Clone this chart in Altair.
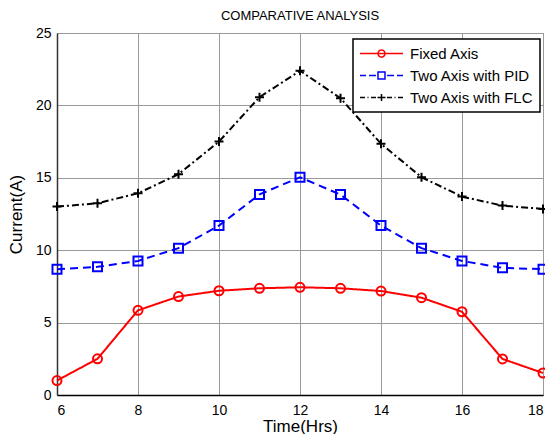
import altair as alt
import pandas as pd

hours = [6, 7, 8, 9, 10, 11, 12, 13, 14, 15, 16, 17, 18]
fixed_axis = [1.0, 2.5, 5.85, 6.8, 7.2, 7.37, 7.44, 7.37, 7.18, 6.72, 5.75, 2.49, 1.52]
two_axis_pid = [8.69, 8.85, 9.26, 10.14, 11.7, 13.85, 15.04, 13.84, 11.7, 10.14, 9.26, 8.78, 8.69]
two_axis_flc = [13.01, 13.24, 13.93, 15.25, 17.5, 20.57, 22.39, 20.5, 17.35, 15.04, 13.7, 13.08, 12.85]

series_names = ["Fixed Axis", "Two Axis with PID", "Two Axis with FLC"]
series_colors = ["#ff0000", "#0000ff", "#000000"]
series_dash = [[1, 0], [8, 5], [7, 3, 2, 3]]
plus_path = "M-1,0H1M0,-1V1"
series_shapes = ["circle", "square", plus_path]

# --- legend glyphs (line sample + marker), built as custom symbol paths ---
SYM_R = 7.5          # half of sqrt(symbolSize)
SYM_C = 8.5          # symbol centre inside legend entry (px)


def u(px):
    return round((px - SYM_C) / SYM_R, 4)


def segs(pairs):
    return "".join(f"M{u(a)},0H{u(b)}" for a, b in pairs)


mk = 22.5   # marker centre (px)
mr = 3.5    # marker half size (px)
k = round(mr / SYM_R, 4)
fixed_glyph = segs([(1, 44)]) + (
    f"M{u(mk + mr)},0A{k},{k},0,1,1,{u(mk - mr)},0A{k},{k},0,1,1,{u(mk + mr)},0Z"
)
pid_glyph = segs([(1, 7), (10, 17), (28, 35), (38, 44)]) + (
    f"M{u(mk - mr)},{-k}H{u(mk + mr)}V{k}H{u(mk - mr)}Z"
)
flc_glyph = segs([(1, 6), (8.5, 9.5), (12, 17), (18.5, 26.5), (28, 33), (35.5, 36.5), (39, 44)]) + (
    f"M{u(mk)},{-k}V{k}"
)
legend_paths = [fixed_glyph, pid_glyph, flc_glyph]

rows = []
for name, vals in zip(series_names, [fixed_axis, two_axis_pid, two_axis_flc]):
    for h, v in zip(hours, vals):
        rows.append({"hour": h, "current": v, "series": name})
df = pd.DataFrame(rows)

font = "Liberation Sans"

x_enc = alt.X(
    "hour:Q",
    scale=alt.Scale(domain=[6, 18], nice=False),
    axis=alt.Axis(
        values=[6, 8, 10, 12, 14, 16, 18], title="Time(Hrs)", ticks=False,
        labelPadding=8, titlePadding=1, titleFontSize=17, labelFontSize=14,
        grid=True, domainColor="#000000", domainWidth=1.5,
    ),
)
y_enc = alt.Y(
    "current:Q",
    scale=alt.Scale(domain=[0, 25], nice=False),
    axis=alt.Axis(
        values=[0, 5, 10, 15, 20, 25], title="Current(A)", ticks=False,
        labelPadding=6, titlePadding=10, titleFontSize=17, labelFontSize=14,
        grid=True, domainColor="#333333", domainWidth=1.5,
    ),
)

lines = alt.Chart(df).mark_line(strokeWidth=2).encode(
    x=x_enc,
    y=y_enc,
    color=alt.Color("series:N", scale=alt.Scale(domain=series_names, range=series_colors), legend=None),
    strokeDash=alt.StrokeDash("series:N", scale=alt.Scale(domain=series_names, range=series_dash), legend=None),
)

points = alt.Chart(df).mark_point(filled=False, strokeWidth=2, size=81, opacity=1).encode(
    x=alt.X("hour:Q"),
    y=alt.Y("current:Q"),
    color=alt.Color("series:N", scale=alt.Scale(domain=series_names, range=series_colors), legend=None),
    shape=alt.Shape("series:N", scale=alt.Scale(domain=series_names, range=series_shapes), legend=None),
)

legend_layer = alt.Chart(df).transform_filter("false").mark_point(
    filled=False, strokeWidth=1.5, opacity=1
).encode(
    x=alt.X("hour:Q"),
    y=alt.Y("current:Q"),
    color=alt.Color(
        "series:N",
        scale=alt.Scale(domain=series_names, range=series_colors),
        legend=alt.Legend(title=None),
    ),
    shape=alt.Shape(
        "series:N",
        scale=alt.Scale(domain=series_names, range=legend_paths),
        legend=alt.Legend(title=None),
    ),
)

chart = alt.layer(lines, points, legend_layer).resolve_scale(
    color="independent", shape="independent", strokeDash="independent"
).properties(
    width=486,
    height=362,
    padding={"left": 49, "top": 25, "right": 2, "bottom": 39},
    autosize=alt.AutoSizeParams(type="none"),
    title=alt.TitleParams(
        "COMPARATIVE ANALYSIS", fontSize=13, fontWeight="normal", font=font,
        anchor="middle", offset=3, color="#000000",
    ),
).configure_view(
    stroke="#999999", strokeWidth=1
).configure_axis(
    labelFont=font, titleFont=font, labelColor="#000000", titleColor="#000000",
    titleFontWeight="normal", gridColor="#9a9a9a", gridWidth=1, gridOpacity=1,
).configure_legend(
    orient="none", legendX=296, legendY=6, padding=6,
    strokeColor="#000000", fillColor="#ffffff", strokeWidth=1.5,
    labelFont=font, labelFontSize=15, labelColor="#000000",
    symbolSize=(2 * SYM_R) ** 2, symbolStrokeWidth=1.5, rowPadding=5, labelOffset=34,
)

chart.save("out.html", embed_options={"renderer": "svg", "actions": False})
